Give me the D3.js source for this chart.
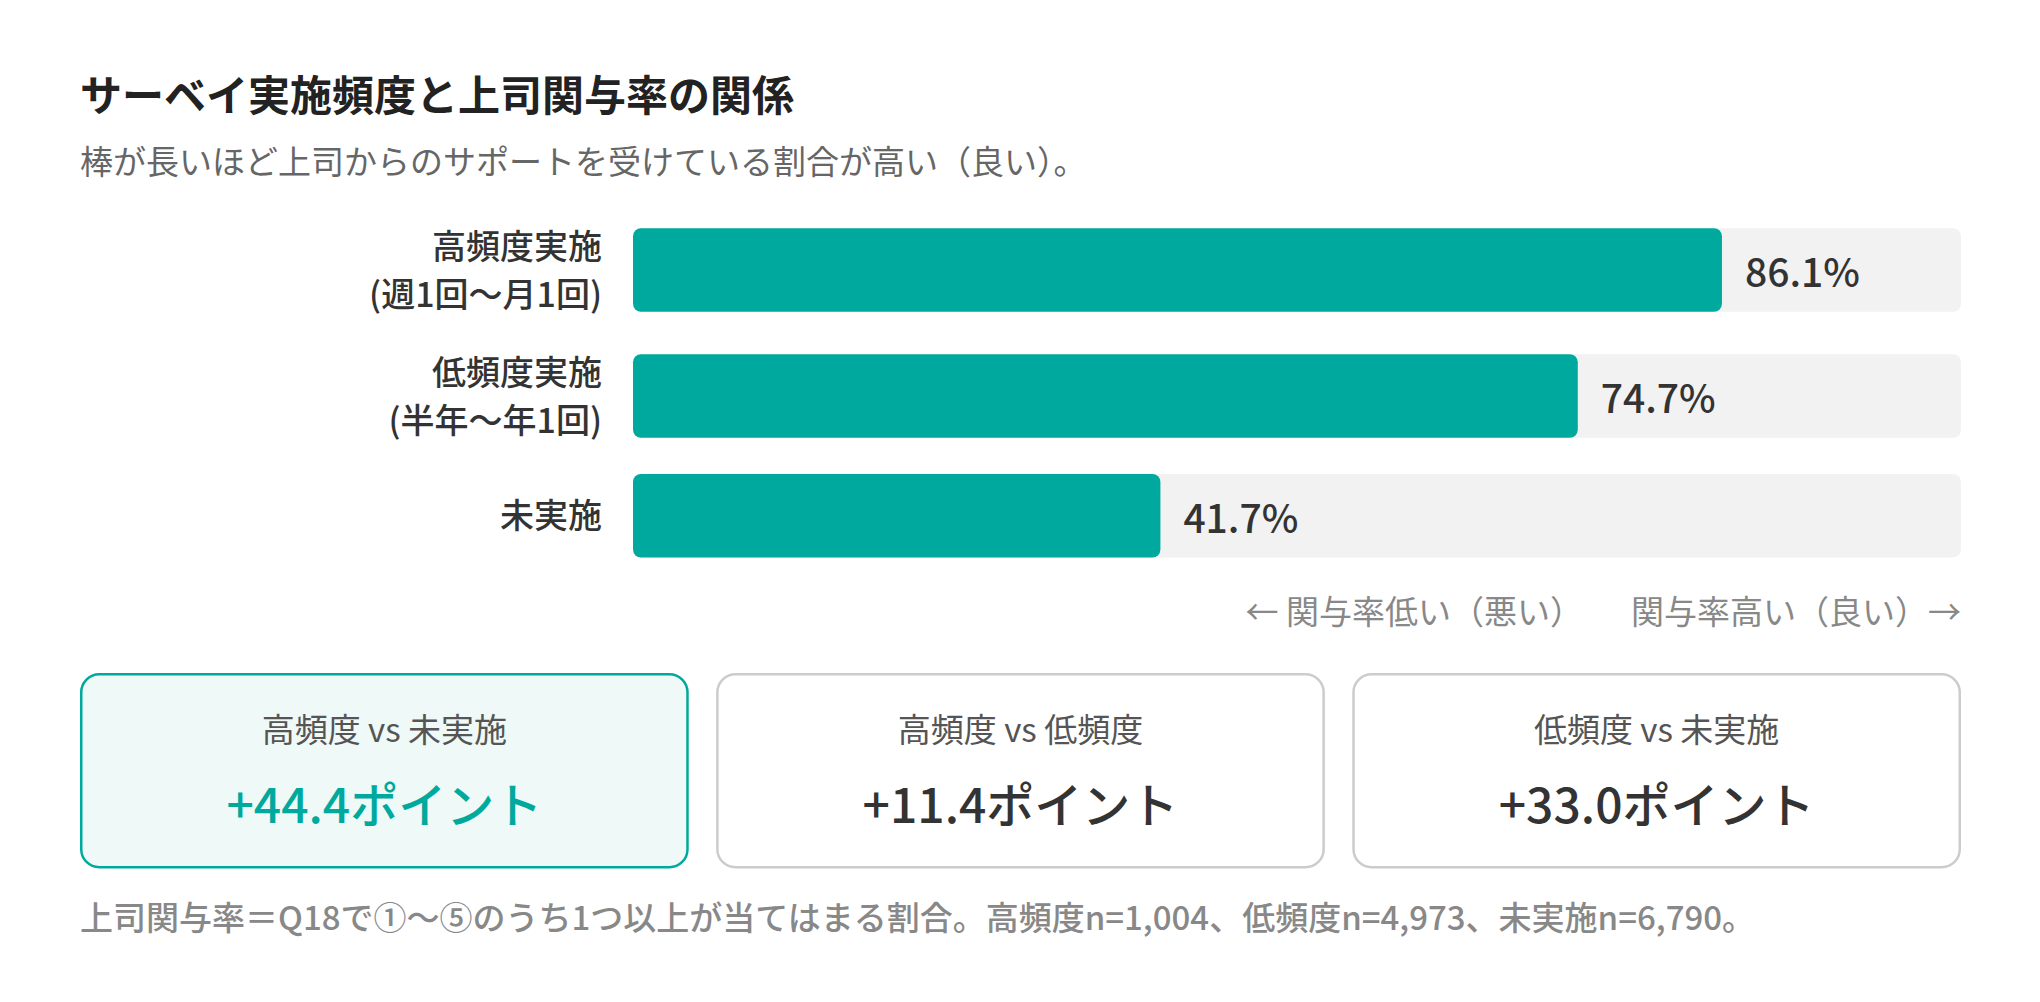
<!DOCTYPE html>
<html lang="ja">
<head>
<meta charset="utf-8">
<script src="https://cdn.jsdelivr.net/npm/d3@7"></script>
<style>
  html, body { margin: 0; padding: 0; background: #fff; }
  svg { display: block; }
  text { font-family: "Noto Sans CJK JP", "Noto Sans", sans-serif; }
</style>
</head>
<body>
<div id="chart"></div>
<script>
'use strict';

var W = 2040;
var H = 1002;

// bar data
var groups = [ '高頻度実施', '低頻度実施', '未実施' ];
var groupNotes = [ '(週1回〜月1回)', '(半年〜年1回)', '' ];
var rates = [ 86.1, 74.7, 41.7 ];

// comparison cards
var pairLabels = [ '高頻度 vs 未実施', '高頻度 vs 低頻度', '低頻度 vs 未実施' ];
var pairDiffs = [ 44.4, 11.4, 33.0 ];

// sample sizes for the footnote
var sampleLabels = [ '高頻度', '低頻度', '未実施' ];
var sampleN = [ 1004, 4973, 6790 ];

var teal = '#00a99d';
var left = 80;
var right = 1961;

var svg = d3.select('#chart').append('svg')
	.attr('width', W)
	.attr('height', H);

svg.append('text')
	.attr('x', left)
	.attr('y', 111)
	.attr('font-size', 42)
	.attr('font-weight', 700)
	.attr('fill', '#222')
	.text('サーベイ実施頻度と上司関与率の関係');

svg.append('text')
	.attr('x', left)
	.attr('y', 174)
	.attr('font-size', 33)
	.attr('fill', '#666')
	.text('棒が長いほど上司からのサポートを受けている割合が高い（良い）。');

// rows: two-line labels make the row taller than the bar
var barH = 83.5;
var lineH = 48;
var rowGap = 30;
var rowTop = 222;
var centers = [];
groups.forEach(function(g, i) {
	var hRow = Math.max(barH, groupNotes[i] ? lineH * 2 : lineH);
	centers.push(rowTop + hRow / 2);
	rowTop += hRow + rowGap;
});

var x = d3.scaleLinear().domain([0, 105]).range([633, right]);
var y = d3.scaleOrdinal().domain(groups).range(centers);

var rows = svg.selectAll('g.row')
	.data(groups)
	.enter().append('g')
	.attr('class', 'row')
	.attr('transform', function(d) { return 'translate(0,' + y(d) + ')'; });

rows.append('rect')
	.attr('x', x(0))
	.attr('y', -barH / 2)
	.attr('width', x.range()[1] - x(0))
	.attr('height', barH)
	.attr('rx', 8)
	.attr('fill', '#f2f2f2');

rows.append('rect')
	.attr('x', x(0))
	.attr('y', -barH / 2)
	.attr('width', function(d, i) { return x(rates[i]) - x(0); })
	.attr('height', barH)
	.attr('rx', 8)
	.attr('fill', teal);

rows.append('text')
	.attr('x', function(d, i) { return x(rates[i]) + 23; })
	.attr('y', 17)
	.attr('font-size', 39)
	.attr('font-weight', 500)
	.attr('fill', '#333')
	.text(function(d, i) { return rates[i].toFixed(1) + '%'; });

var labels = rows.append('text')
	.attr('x', 602)
	.attr('text-anchor', 'end')
	.attr('font-size', 34)
	.attr('font-weight', 500)
	.attr('fill', '#333');

labels.each(function(d, i) {
	var t = d3.select(this);
	var lines = groupNotes[i] ? [ d, groupNotes[i] ] : [ d ];
	lines.forEach(function(s, k) {
		t.append('tspan')
			.attr('x', 602)
			.attr('y', (k - (lines.length - 1) / 2) * lineH + 12.5)
			.text(s);
	});
});

// direction hints under the bars
var hintY = 624;
var hiHint = svg.append('text')
	.attr('x', right)
	.attr('y', hintY)
	.attr('text-anchor', 'end')
	.attr('font-size', 33)
	.attr('fill', '#888')
	.text('関与率高い（良い）→');

var hiStart = right - hiHint.node().getComputedTextLength();
svg.append('text')
	.attr('x', hiStart - 48)
	.attr('y', hintY)
	.attr('text-anchor', 'end')
	.attr('font-size', 33)
	.attr('fill', '#888')
	.text('← 関与率低い（悪い）');

// comparison cards
var cardGap = 27;
var cardY = 673;
var cardH = 195.5;
var cx = d3.scaleBand()
	.domain(pairLabels)
	.range([left, right])
	.paddingInner(cardGap * 3 / (right - left));

var cards = svg.selectAll('g.card')
	.data(pairLabels)
	.enter().append('g')
	.attr('class', 'card')
	.attr('transform', function(d) { return 'translate(' + cx(d) + ',' + cardY + ')'; });

cards.append('rect')
	.attr('x', 1.25)
	.attr('y', 1.25)
	.attr('width', cx.bandwidth() - 2.5)
	.attr('height', cardH - 2.5)
	.attr('rx', 18)
	.attr('fill', function(d, i) { return i === 0 ? '#eff9f7' : '#fff'; })
	.attr('stroke', function(d, i) { return i === 0 ? teal : '#cccccc'; })
	.attr('stroke-width', 2.5);

cards.append('text')
	.attr('x', cx.bandwidth() / 2)
	.attr('y', 68.5)
	.attr('text-anchor', 'middle')
	.attr('font-size', 33)
	.attr('fill', '#555')
	.text(function(d) { return d; });

cards.append('text')
	.attr('x', cx.bandwidth() / 2)
	.attr('y', 150)
	.attr('text-anchor', 'middle')
	.attr('font-size', 48)
	.attr('font-weight', 500)
	.attr('fill', function(d, i) { return i === 0 ? teal : '#333'; })
	.text(function(d, i) { return '+' + pairDiffs[i].toFixed(1) + 'ポイント'; });

// footnote
var fmt = d3.format(',');
var nText = sampleLabels.map(function(s, i) { return s + 'n=' + fmt(sampleN[i]); }).join('、');
svg.append('text')
	.attr('x', left)
	.attr('y', 930)
	.attr('font-size', 33)
	.attr('font-weight', 500)
	.attr('fill', '#888')
	.text('上司関与率＝Q18で①〜⑤のうち1つ以上が当てはまる割合。' + nText + '。');
</script>
</body>
</html>
